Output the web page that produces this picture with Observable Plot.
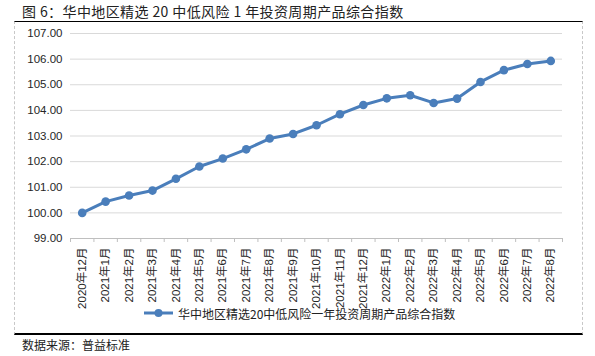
<!DOCTYPE html>
<html>
<head>
<meta charset="utf-8">
<script src="https://cdn.jsdelivr.net/npm/d3@7"></script>
<script src="https://cdn.jsdelivr.net/npm/@observablehq/plot@0.6"></script>
<style>
  body { margin: 0; background: #fff; }
  #wrap { position: relative; width: 595px; height: 356px; overflow: hidden; background: #fff; }
  #title { position: absolute; left: 22px; top: 1px; font-family: "Noto Sans CJK SC", sans-serif; font-size: 14px; letter-spacing: 0.4px; line-height: 20px; color: #222; white-space: nowrap; }
  #frame { position: absolute; left: 14px; top: 21px; width: 567px; height: 311px; border-top: 1px solid #000; border-bottom: 2px solid #000; border-left: 1px dashed #c8c8c8; border-right: 1px dashed #c8c8c8; }
  #chart { position: absolute; left: 0; top: 22px; }
  #legend { position: absolute; left: 144px; top: 304px; height: 18px; display: flex; align-items: center; font-family: "Noto Sans CJK SC", sans-serif; font-size: 12px; color: #222; white-space: nowrap; }
  #legend svg { margin-right: 4px; }
  #source { position: absolute; left: 22px; top: 336px; font-family: "Noto Sans CJK SC", sans-serif; font-size: 12px; line-height: 18px; color: #222; white-space: nowrap; }
</style>
</head>
<body>
<div id="wrap">
  <div id="title">图 6：华中地区精选 20 中低风险 1 年投资周期产品综合指数</div>
  <div id="frame"></div>
  <div id="chart"></div>
  <div id="legend"></div>
  <div id="source">数据来源：普益标准</div>
</div>
<script>
const categories = ["2020年12月","2021年1月","2021年2月","2021年3月","2021年4月","2021年5月","2021年6月","2021年7月","2021年8月","2021年9月","2021年10月","2021年11月","2021年12月","2022年1月","2022年2月","2022年3月","2022年4月","2022年5月","2022年6月","2022年7月","2022年8月"];
const values = [100.00,100.44,100.68,100.87,101.33,101.81,102.12,102.48,102.90,103.08,103.42,103.85,104.21,104.47,104.59,104.29,104.46,105.11,105.57,105.81,105.93];
const yTicks = [99,100,101,102,103,104,105,106,107];
const seriesName = "华中地区精选20中低风险一年投资周期产品综合指数";
const lineColor = "#4a7ebb";

const data = categories.map((c, i) => ({i, c, v: values[i]}));
const n = categories.length;
const edges = d3.range(n + 1).map(k => k - 0.5);

const chart = Plot.plot({
  width: 595,
  height: 296,
  marginTop: 11,
  marginBottom: 80,
  marginLeft: 70,
  marginRight: 33,
  style: { fontFamily: '"Liberation Sans", "Noto Sans CJK SC", sans-serif', fontSize: "11px", color: "#262626", background: "transparent" },
  x: { type: "linear", domain: [-0.5, n - 0.5] },
  y: { domain: [99, 107] },
  marks: [
    Plot.gridY(yTicks.filter(t => t > 99), { stroke: "#d9d9d9", strokeOpacity: 1 }),
    Plot.ruleY([99], { stroke: "#bfbfbf" }),
    Plot.axisY(yTicks, { tickSize: 0, tickPadding: 8, tickFormat: d3.format(".2f"), fontSize: 11.5, label: null }),
    Plot.axisX(edges, { tickSize: 4, tickFormat: () => "", stroke: "#bfbfbf", label: null }),
    Plot.axisX(d3.range(n), { tickSize: 0, tickPadding: 9, tickRotate: -90, tickFormat: k => categories[k], fontSize: 11.5, label: null }),
    Plot.line(data, { x: "i", y: "v", stroke: lineColor, strokeWidth: 3 }),
    Plot.dot(data, { x: "i", y: "v", r: 4.3, fill: lineColor, stroke: "none" })
  ]
});
document.getElementById("chart").appendChild(chart);

const legend = document.getElementById("legend");
legend.innerHTML = `<svg width="30" height="10"><line x1="0" y1="5" x2="29" y2="5" stroke="${lineColor}" stroke-width="3"/><circle cx="14.5" cy="5" r="4" fill="${lineColor}"/></svg><span>${seriesName}</span>`;
</script>
</body>
</html>
